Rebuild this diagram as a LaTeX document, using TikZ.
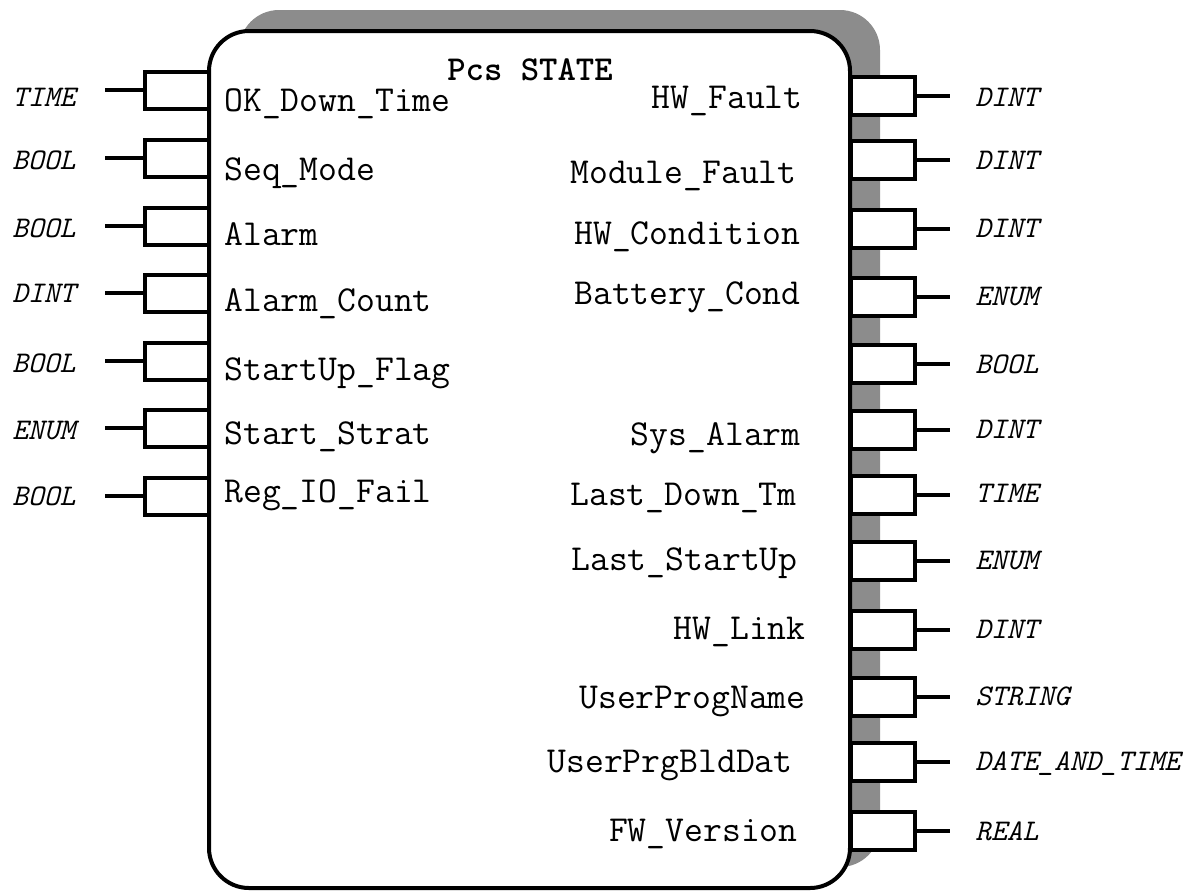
\documentclass[tikz,border=0pt]{standalone}
\usepackage{fontspec}
\begin{document}
\begin{tikzpicture}[x=0.5pt,y=-0.5pt,
  sig/.style={font=\ttfamily\fontsize{18.3pt}{20pt}\selectfont, inner sep=0pt, yshift=-2.5pt},
  typ/.style={font=\ttfamily\itshape\fontsize{15pt}{17pt}\selectfont, inner sep=0pt, anchor=mid west, yshift=-2pt},
  ttl/.style={font=\ttfamily\bfseries\fontsize{17.5pt}{20pt}\selectfont, inner sep=0pt},
  blk/.style={draw=black, line width=2pt, rounded corners=20pt, fill=white,
    minimum width=320.5pt, minimum height=428.5pt, inner sep=0pt},
  shd/.style={fill=black!45, rounded corners=20pt,
    minimum width=320.5pt, minimum height=428.5pt, inner sep=0pt},
  lpin/.style={draw=black, line width=2pt, fill=white, minimum width=32pt, minimum height=18.5pt, inner sep=0pt},
  rpin/.style={draw=black, line width=2pt, fill=white, minimum width=32pt, minimum height=19pt, inner sep=0pt},
  stub/.style={line width=1.6pt}]
\useasboundingbox (0,0) rectangle (1188,891);
% shadow and block
\node[shd] (shadow) at (559.5,438.5) {};
\node[blk] (block) at (529.5,459.5) {};
\node[ttl] (title) at (530,70) {Pcs STATE};
% left pins
\foreach \i/\yl/\t/\ty in {1/90/TIME/98, 2/158/BOOL/161, 3/226/BOOL/229, 4/293/DINT/294,
  5/361/BOOL/364, 6/428/ENUM/431, 7/496/BOOL/497} {
  \node[lpin] (lp\i) at (177,\yl) {};
  \coordinate (le\i) at (105,\yl);
  \draw[stub] (lp\i.west) -- (le\i);
  \node[typ] (lt\i) at (12,\ty) {\t};
}
\foreach \i/\y/\s in {1/102/{OK\_Down\_Time}, 2/171/{Seq\_Mode}, 3/236/{Alarm},
  4/302/{Alarm\_Count}, 5/371/{StartUp\_Flag}, 6/435/{Start\_Strat}, 7/493/{Reg\_IO\_Fail}} {
  \node[sig, anchor=mid west] (ls\i) at (224,\y) {\s};
}
% right pins
\foreach \i/\yl/\t/\ty in {1/96/DINT/98, 2/160/DINT/161, 3/229/DINT/229, 4/297/ENUM/297,
  5/364/BOOL/365, 6/430/DINT/430, 7/495/TIME/494, 8/561/ENUM/561, 9/630/DINT/630,
  10/697/STRING/697, 11/762/{DATE\_AND\_TIME}/762, 12/831/REAL/832} {
  \node[rpin] (rp\i) at (883,\yl) {};
  \coordinate (re\i) at (950,\yl);
  \draw[stub] (rp\i.east) -- (re\i);
  \node[typ] (rt\i) at (975,\ty) {\t};
}
\foreach \i/\x/\y/\s in {1/803/99/{HW\_Fault}, 2/797/174/{Module\_Fault}, 3/801/235/{HW\_Condition},
  4/801/295/{Battery\_Cond}, 6/801/436/{Sys\_Alarm}, 7/797/496/{Last\_Down\_Tm},
  8/798/561/{Last\_StartUp}, 9/806/630/{HW\_Link}, 10/806/699/{UserProgName},
  11/793/763/{UserPrgBldDat}, 12/798/832/{FW\_Version}} {
  \node[sig, anchor=mid east] (rs\i) at (\x,\y) {\s};
}
\end{tikzpicture}
\end{document}
